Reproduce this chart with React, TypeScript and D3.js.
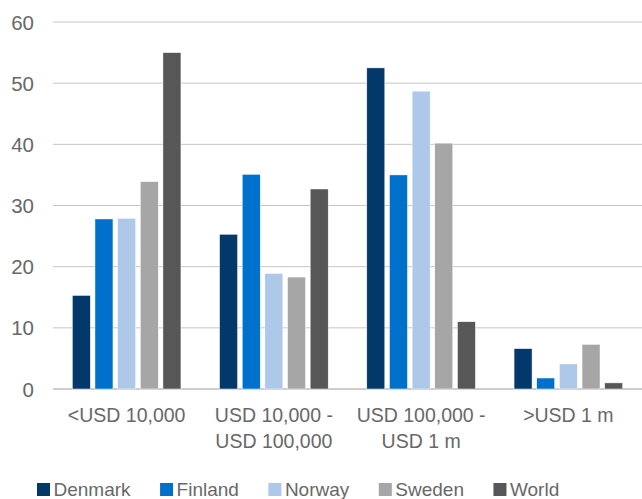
import React from "react";
import * as d3 from "d3";

const categories: string[][] = [
  ["<USD 10,000"],
  ["USD 10,000 -", "USD 100,000"],
  ["USD 100,000 -", "USD 1 m"],
  [">USD 1 m"],
];
const seriesNames = ["Denmark", "Finland", "Norway", "Sweden", "World"];
const denmark = [15.3, 25.3, 52.5, 6.6];
const finland = [27.8, 35.1, 35.0, 1.8];
const norway = [27.9, 18.9, 48.7, 4.1];
const sweden = [33.9, 18.3, 40.2, 7.3];
const world = [55.0, 32.7, 11.0, 1.0];
const yTicks = [0, 10, 20, 30, 40, 50, 60];

const seriesValues = [denmark, finland, norway, sweden, world];
const colors = ["#02396A", "#0070CD", "#ADC8E8", "#A6A6A6", "#575757"];

const W = 642;
const H = 499;
const FONT = "'Liberation Sans', Arial, sans-serif";
const TEXT = "#686868";

function measure(text: string, size: number): number {
  const c = document.createElement("canvas");
  const ctx = c.getContext("2d");
  if (!ctx) return text.length * size * 0.5;
  ctx.font = `${size}px ${FONT}`;
  return ctx.measureText(text).width;
}

export default function App() {
  const x = d3.scaleBand<number>().domain(d3.range(categories.length)).range([53, 642]).paddingInner(0).paddingOuter(0);
  const bw = x.bandwidth();
  const inner = d3
    .scaleBand<number>()
    .domain(d3.range(seriesNames.length))
    .range([19.3, bw - 19.3])
    .paddingInner(0.205)
    .paddingOuter(0);
  const y = d3.scaleLinear().domain([0, 60]).range([389, 22]);

  const legendItems: { name: string; color: string; x: number }[] = [];
  let lx = 37;
  seriesNames.forEach((n, i) => {
    legendItems.push({ name: n, color: colors[i], x: lx });
    lx += 13 + 4 + measure(n, 19) + 29;
  });

  return (
    <svg width={W} height={H} style={{ position: "absolute", left: 0, top: 0 }} fontFamily={FONT}>
      <rect width={W} height={H} fill="#fff" />
      {yTicks.map((t) => (
        <g key={t}>
          <line x1={53} x2={642} y1={y(t)} y2={y(t)} stroke={t === 0 ? "#bdbdbd" : "#c6c6c6"} strokeWidth={t === 0 ? 1.5 : 1} />
          <text x={34} y={y(t) + 7.5} textAnchor="end" fontSize={20.5} fill={TEXT}>
            {t}
          </text>
        </g>
      ))}
      {categories.map((cat, ci) =>
        seriesValues.map((vals, si) => (
          <rect
            key={`${ci}-${si}`}
            x={(x(ci) as number) + (inner(si) as number)}
            y={y(vals[ci])}
            width={inner.bandwidth()}
            height={y(0) - y(vals[ci])}
            fill={colors[si]}
            stroke="#ffffff"
            strokeWidth={0.5}
          />
        ))
      )}
      {categories.map((cat, ci) => (
        <text key={ci} x={(x(ci) as number) + bw / 2} textAnchor="middle" fontSize={19.5} fill={TEXT}>
          {cat.map((line, li) => (
            <tspan key={li} x={(x(ci) as number) + bw / 2} y={422 + li * 25.5}>
              {line}
            </tspan>
          ))}
        </text>
      ))}
      {legendItems.map((it) => (
        <g key={it.name}>
          <rect x={it.x} y={483} width={13} height={13} fill={it.color} />
          <text x={it.x + 16.5} y={496} fontSize={19} fill={TEXT}>
            {it.name}
          </text>
        </g>
      ))}
    </svg>
  );
}
